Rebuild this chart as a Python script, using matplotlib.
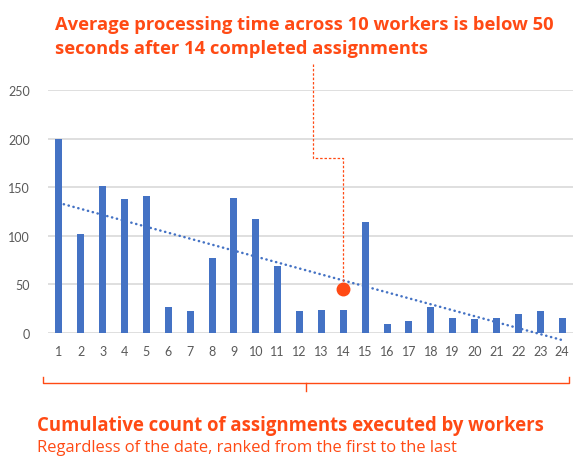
import numpy as np
from matplotlib import pyplot as plt

# rang des affectations (1..24) et temps moyen (s)
ranks = list(range(1, 25))
avg_time = [200, 102, 151, 137.5, 141, 26.7, 22.3, 76.8, 139, 117, 69, 23,
            24, 24, 114, 9, 12, 27, 15.4, 14.4, 15.4, 19.9, 23, 15.4]
y_ticks = [0, 50, 100, 150, 200, 250]
mark_rank = 14
mark_value = 45

BLUE = '#4472C4'
ORANGE = '#FF4A14'
GREY = '#595959'

plt.rcParams['font.family'] = ['Lato', 'DejaVu Sans']

fig = plt.figure(figsize=(5.88, 4.6), dpi=100)
ax = fig.add_axes([48 / 588, 126 / 460, 525 / 588, 243 / 460])

ax.bar(ranks, avg_time, width=0.32, color=BLUE, zorder=3)

# linear trend (excel style)
coef = np.polyfit(ranks, avg_time, 1)
tx = np.array([ranks[0], ranks[-1]])
ax.plot(tx, np.polyval(coef, tx), color=BLUE, lw=1.8, ls=(0, (0.1, 1.9)),
        dash_capstyle='round', zorder=4, clip_on=False)

ax.plot([mark_rank], [mark_value], 'o', color=ORANGE, ms=9, zorder=5)

ax.set_xlim(0.5, 24.5)
ax.set_ylim(0, 250)
ax.set_xticks(ranks)
ax.set_yticks(y_ticks)
ax.tick_params(length=0, labelsize=9, colors=GREY, pad=9)
ax.tick_params(axis='y', pad=13)
for s in ax.spines.values():
    s.set_visible(False)
ax.grid(axis='y', color='#D9D9D9', lw=1.2, zorder=0)

# annotation dashed connector
def px(x, y):
    return x / 588, 1 - y / 460

pts = [px(312.5, 65), px(312.5, 158.5), px(342.5, 158.5), px(342.5, 282)]
fig.lines.append(plt.Line2D([p[0] for p in pts], [p[1] for p in pts],
                            transform=fig.transFigure, color=ORANGE,
                            lw=0.9, ls=(0, (2, 1.5))))

# bracket under axis
bx = [px(43, 378), px(43, 384), px(569, 384), px(569, 378)]
fig.lines.append(plt.Line2D([p[0] for p in bx], [p[1] for p in bx],
                            transform=fig.transFigure, color=ORANGE, lw=1))
cx = [px(306, 384), px(306, 392)]
fig.lines.append(plt.Line2D([p[0] for p in cx], [p[1] for p in cx],
                            transform=fig.transFigure, color=ORANGE, lw=1))

title_font = ['Open Sans', 'DejaVu Sans']
fig.text(55 / 588, 1 - 30 / 460,
         'Average processing time across 10 workers is below 50',
         color=ORANGE, fontsize=13.25, fontweight='bold', va='baseline',
         ha='left', family=title_font)
fig.text(55 / 588, 1 - 54 / 460,
         'seconds after 14 completed assignments',
         color=ORANGE, fontsize=13.25, fontweight='bold', va='baseline',
         ha='left', family=title_font)
fig.text(37 / 588, 1 - 431 / 460,
         'Cumulative count of assignments executed by workers',
         color=ORANGE, fontsize=13.35, fontweight='bold', va='baseline',
         ha='left', family=title_font)
fig.text(37 / 588, 1 - 452 / 460,
         'Regardless of the date, ranked from the first to the last',
         color=ORANGE, fontsize=11.9, va='baseline', ha='left',
         family=title_font)

fig.savefig('out.png', dpi=100)
